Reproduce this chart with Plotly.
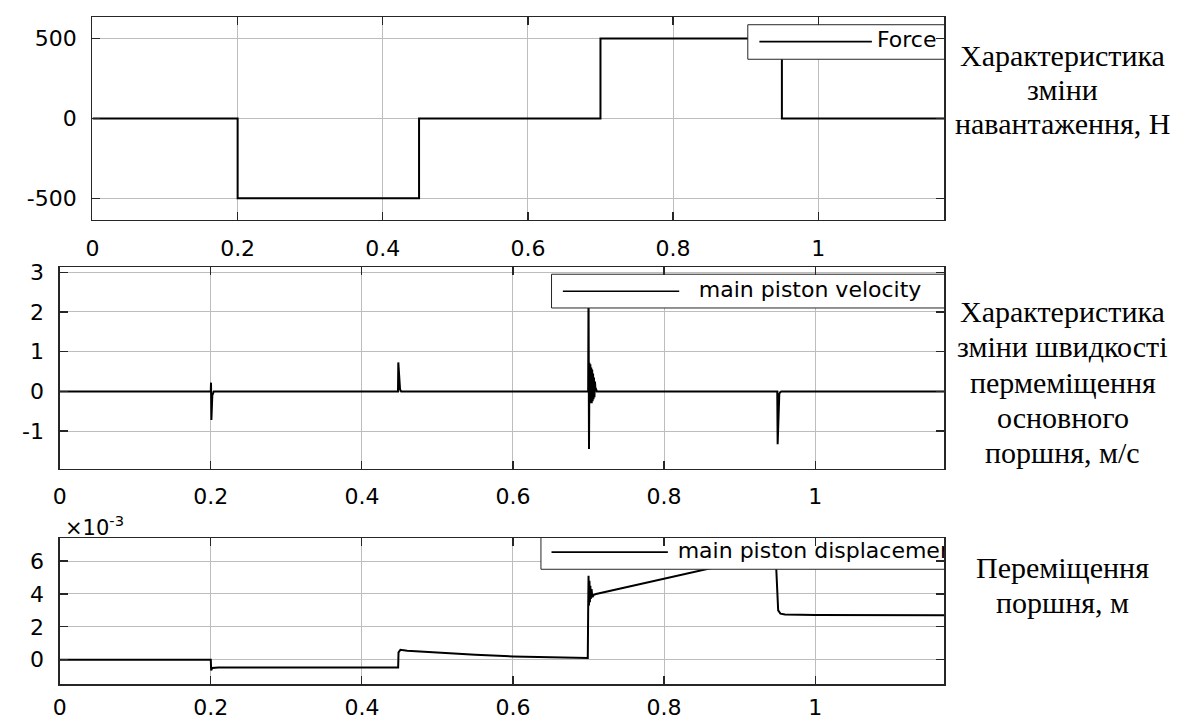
import plotly.graph_objects as go

# ---------------- data ----------------
t_force = [0.0, 0.2, 0.2, 0.45, 0.45, 0.7, 0.7, 0.95, 0.95, 1.2]
force_N = [0, 0, -500, -500, 0, 0, 500, 500, 0, 0]

t_vel = [0.0, 0.2, 0.2003, 0.2008, 0.202, 0.204,
         0.4478, 0.4482, 0.4505, 0.452,
         0.6995, 0.7, 0.7006, 0.7012, 0.7018, 0.7024, 0.703, 0.7036, 0.7042,
         0.7048, 0.7054, 0.706, 0.7066, 0.7072, 0.7078, 0.7085, 0.709, 0.711,
         0.9498, 0.9503, 0.9525, 0.955, 1.2]
vel_ms = [0, 0, 0.22, -0.72, -0.1, 0,
          0, 0.73, 0.05, 0,
          0, 2.6, -1.45, 0.72, -0.3, 0.68, -0.28, 0.6, -0.3, 0.55,
          -0.25, 0.45, -0.2, 0.35, -0.15, 0.25, 0.1, 0,
          0, -1.33, -0.05, 0, 0]

t_disp = [0.0, 0.2, 0.2005, 0.202, 0.21, 0.448, 0.4485, 0.451, 0.46, 0.5,
          0.55, 0.6, 0.65, 0.699, 0.6995, 0.7, 0.7006, 0.7012, 0.7018, 0.7024,
          0.703, 0.704, 0.705, 0.707, 0.71, 0.78, 0.85, 0.948, 0.9485, 0.951,
          0.954, 0.96, 1.0, 1.2]
disp_m = [0.0, 0.0, -0.00065, -0.0005, -0.00047, -0.00047, 0.00045, 0.0006, 0.00055, 0.00042,
          0.0003, 0.0002, 0.00014, 0.0001, 0.003, 0.0051, 0.0033, 0.0048, 0.0035, 0.0045,
          0.0037, 0.0043, 0.0038, 0.00395, 0.004, 0.00472, 0.00545, 0.00645, 0.0055, 0.003,
          0.0028, 0.00275, 0.00272, 0.0027]

x_tick_vals = [0, 0.2, 0.4, 0.6, 0.8, 1, 1.2]
x_tick_text = ["0", "0.2", "0.4", "0.6", "0.8", "1", "1.2"]
force_tick_vals = [-500, 0, 500]
force_tick_text = ["-500", "0", "500"]
vel_tick_vals = [-1, 0, 1, 2, 3]
vel_tick_text = ["-1", "0", "1", "2", "3"]
disp_tick_vals = [0, 0.002, 0.004, 0.006]
disp_tick_text = ["0", "2", "4", "6"]
disp_exponent_label = "×10<sup>-3</sup>"

legend_names = ["Force", "main piston velocity", "main piston displacement"]
side_labels = [
    ["Характеристика", "зміни", "навантаження, Н"],
    ["Характеристика", "зміни швидкості", "пермеміщення", "основного", "поршня, м/с"],
    ["Переміщення", "поршня, м"],
]

# ---------------- figure ----------------
W, H = 1184, 720
SANS = "DejaVu Sans"
SERIF = "Liberation Serif"
AX = "#262626"
GRID = "#bdbdbd"
LINE = dict(color="black", width=2)

fig = go.Figure()

series = [(t_force, force_N, "x", "y"),
          (t_vel, vel_ms, "x2", "y2"),
          (t_disp, disp_m, "x3", "y3")]
for (tx, vy, xa, ya) in series:
    fig.add_trace(go.Scatter(x=tx, y=vy, mode="lines", line=LINE,
                             xaxis=xa, yaxis=ya, showlegend=False,
                             hoverinfo="skip"))

# legend boxes drawn inside each axes so the figure's right crop clips them
# (box x0, box y0, box y1, sample x0, sample x1, text x, row y)
legend_geom = [
    (0.903, 370, 586, 0.919, 1.074, 1.081, 480),
    (0.651, 2.10, 2.95, 0.666, 0.820, 0.846, 2.52),
    (0.637, 0.0055, 0.0080, 0.651, 0.805, 0.818, 0.00654),
]
for name, g, (_, _, xa, ya) in zip(legend_names, legend_geom, series):
    bx0, by0, by1, sx0, sx1, tx, ry = g
    bx1 = 1.4
    fig.add_trace(go.Scatter(x=[bx0, bx1, bx1, bx0, bx0], y=[by0, by0, by1, by1, by0],
                             mode="lines", fill="toself", fillcolor="white",
                             line=dict(color=AX, width=1), xaxis=xa, yaxis=ya,
                             showlegend=False, hoverinfo="skip"))
    fig.add_trace(go.Scatter(x=[sx0, sx1], y=[ry, ry], mode="lines",
                             line=dict(color="black", width=1.6), xaxis=xa, yaxis=ya,
                             showlegend=False, hoverinfo="skip"))
    fig.add_trace(go.Scatter(x=[tx], y=[ry], mode="text", text=[name],
                             textposition="middle right", cliponaxis=True,
                             textfont=dict(family=SANS, size=22, color="black"),
                             xaxis=xa, yaxis=ya, showlegend=False, hoverinfo="skip"))


def px_x(p):
    return p / W


def px_y(p):
    return 1 - p / H


def xaxis(left, right_range, anchor, standoff):
    return dict(domain=[px_x(left), px_x(943)], range=[0, right_range], anchor=anchor,
                tickvals=x_tick_vals, ticktext=x_tick_text,
                showgrid=True, gridcolor=GRID, gridwidth=1, zeroline=False,
                showline=True, linecolor=AX, linewidth=1.3, mirror="ticks",
                ticks="inside", ticklen=8, tickcolor=AX, tickwidth=1.2,
                ticklabelstandoff=standoff,
                tickfont=dict(family=SANS, size=22, color="black"))


def yaxis(top, bottom, rng, anchor, vals, texts):
    return dict(domain=[px_y(bottom), px_y(top)], range=rng, anchor=anchor,
                tickvals=vals, ticktext=texts,
                showgrid=True, gridcolor=GRID, gridwidth=1, zeroline=False,
                showline=True, linecolor=AX, linewidth=1.3, mirror="ticks",
                ticks="inside", ticklen=8, tickcolor=AX, tickwidth=1.2,
                ticklabelstandoff=10,
                tickfont=dict(family=SANS, size=22, color="black"))


fig.update_layout(
    width=W, height=H, margin=dict(l=0, r=0, t=0, b=0),
    paper_bgcolor="white", plot_bgcolor="white", showlegend=False,
    hovermode=False,
    xaxis=xaxis(86, (943 - 86) / 730, "y", 9),
    yaxis=yaxis(10, 215, [-633, 635], "x", force_tick_vals, force_tick_text),
    xaxis2=xaxis(53, (943 - 53) / 760, "y2", 7),
    yaxis2=yaxis(263, 467, [-1.95, 3.13], "x2", vel_tick_vals, vel_tick_text),
    xaxis3=xaxis(53, (943 - 53) / 760, "y3", 3),
    yaxis3=yaxis(537, 685, [-0.0015, 0.0074], "x3", disp_tick_vals, disp_tick_text),
)

fig.add_annotation(text=disp_exponent_label, xref="paper", yref="paper",
                   x=px_x(56), y=px_y(525), xanchor="left", yanchor="middle",
                   showarrow=False, font=dict(family=SANS, size=21, color="black"))

# baselines of the right-hand caption lines (reference pixels)
side_baselines = [[59, 93, 128], [318, 353, 390, 425, 460], [577, 612]]
SERIF_SIZE = 30
for lines, bases in zip(side_labels, side_baselines):
    for txt, b in zip(lines, bases):
        fig.add_annotation(text=txt, xref="paper", yref="paper",
                           x=px_x(1062), y=px_y(b - 10), xanchor="center",
                           yanchor="middle", align="center", showarrow=False,
                           font=dict(family=SERIF, size=SERIF_SIZE, color="black"))

# remove the browser's default page margin so the figure sits at the window origin
fig.write_html("out.html",
               config={"displayModeBar": False, "staticPlot": True},
               post_script="document.body.style.margin='0';document.body.style.overflow='hidden';")
